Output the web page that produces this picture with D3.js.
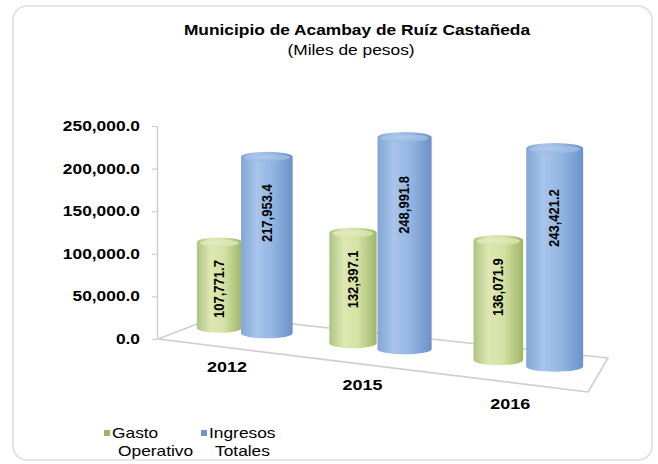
<!DOCTYPE html>
<html>
<head>
<meta charset="utf-8">
<script src="https://cdn.jsdelivr.net/npm/d3@7"></script>
<style>
  body { margin: 0; background: #ffffff; }
  svg { display: block; font-family: "Liberation Sans", Arial, sans-serif; }
</style>
</head>
<body>
<svg id="chart" width="658" height="464"></svg>
<script>
// ---- data ----
const categories = ['2012', '2015', '2016'];
const seriesNames = ['Gasto Operativo', 'Ingresos Totales'];
const gastoOperativo = [107771.7, 132397.1, 136071.9];
const ingresosTotales = [217953.4, 248991.8, 243421.2];
const valueTicks = [0, 50000, 100000, 150000, 200000, 250000];
const titleText = 'Municipio de Acambay de Ruíz Castañeda';
const subtitleText = '(Miles de pesos)';
const legendLines = [['Gasto', 'Operativo'], ['Ingresos', 'Totales']];

const seriesValues = [gastoOperativo, ingresosTotales];

// ---- look ----
const TEXT_STRETCH = 1.24;          // wide lettering used throughout the chart
const LABEL_STRETCH = 1.08;         // value labels written up the cylinders
const palette = {
  'Gasto Operativo': { stops: ['#aec383', '#dde8b3', '#d5e2a4', '#9fb66a'], cap: '#e5edc3', key: '#9bb75e' },
  'Ingresos Totales': { stops: ['#82a6d6', '#a8c5eb', '#94b6e2', '#6c92c6'], cap: '#b0cbec', key: '#6f97cf' }
};
const barWidth = { 'Gasto Operativo': 48, 'Ingresos Totales': 54 };

const svg = d3.select('#chart');
const defs = svg.append('defs');

// chart frame
svg.append('rect')
  .attr('x', 13).attr('y', 6).attr('width', 639).attr('height', 454)
  .attr('rx', 14).attr('ry', 14)
  .attr('fill', '#ffffff').attr('stroke', '#dedede').attr('stroke-width', 1.6);

// helper: stretched text placed at (x, y)
function wideText(g, x, y, txt, opts = {}) {
  return g.append('text')
    .attr('transform', `translate(${x},${y}) scale(${TEXT_STRETCH},1)`)
    .attr('text-anchor', opts.anchor || 'start')
    .attr('font-size', opts.size || 14)
    .attr('font-weight', opts.weight || 'normal')
    .attr('fill', '#000')
    .text(txt);
}

// ---- titles ----
wideText(svg, 357, 35, titleText, { anchor: 'middle', weight: 'bold', size: 14 });
wideText(svg, 351, 55, subtitleText, { anchor: 'middle', size: 14 });

// ---- 3D floor (perspective quad) ----
const FL = [158, 339], FR = [588, 392], BR = [608, 358], BL = [218, 316];
const lerp = (a, b, t) => a + (b - a) * t;
function floorPoint(u, z) {
  const fx = lerp(FL[0], FR[0], u), fy = lerp(FL[1], FR[1], u);
  const bx = lerp(BL[0], BR[0], u), by = lerp(BL[1], BR[1], u);
  return [lerp(fx, bx, z), lerp(fy, by, z)];
}
// perspective foreshortening along the category axis
const PERSP = 0.13;
const warp = t => t / (1 + PERSP * (1 - t));
const sizeAt = u => 1 + 0.14 * (u - 0.5);

svg.append('path')
  .attr('d', d3.line()([FL, FR, BR, BL, FL]))
  .attr('fill', '#ffffff')
  .attr('stroke', '#cfcfcf').attr('stroke-width', 1.6).attr('stroke-linejoin', 'round');

// ---- value axis ----
const y = d3.scaleLinear().domain([0, 250000]).range([339, 126]);
const yAxis = d3.axisLeft(y)
  .tickValues(valueTicks)
  .tickSize(5).tickSizeOuter(0)
  .tickFormat(d3.format(',.1f'));
const axisG = svg.append('g').attr('transform', 'translate(157,0)').call(yAxis);
axisG.select('.domain').attr('stroke', '#cfcfcf').attr('stroke-width', 1.4);
axisG.selectAll('.tick line').attr('stroke', '#cfcfcf').attr('stroke-width', 1.2);
axisG.selectAll('.tick text')
  .attr('x', null)
  .attr('transform', `translate(-17,0) scale(${TEXT_STRETCH},1)`)
  .attr('font-family', '"Liberation Sans", Arial, sans-serif')
  .attr('font-size', 14).attr('font-weight', 'bold').attr('fill', '#000');

// ---- category / series layout ----
const x0 = d3.scaleBand().domain(categories).range([-0.015, 0.985]).paddingInner(0.27).paddingOuter(0.06);
const x1 = d3.scaleBand().domain(seriesNames).range([0, x0.bandwidth()]);
const h = d3.scaleLinear().domain([0, 250000]).range([0, 212.5]);

// gradients for cylinder bodies and their tops
seriesNames.forEach((s, i) => {
  const gr = defs.append('linearGradient').attr('id', 'cyl' + i)
    .attr('x1', 0).attr('x2', 1).attr('y1', 0).attr('y2', 0);
  const st = palette[s].stops;
  [[0, st[0]], [0.3, st[1]], [0.6, st[2]], [1, st[3]]].forEach(([o, c]) =>
    gr.append('stop').attr('offset', o).attr('stop-color', c));
  const rg = defs.append('radialGradient').attr('id', 'cap' + i)
    .attr('cx', 0.4).attr('cy', 0.4).attr('r', 0.7);
  rg.append('stop').attr('offset', 0).attr('stop-color', palette[s].cap);
  rg.append('stop').attr('offset', 1).attr('stop-color', st[2]);
});

const bars = [];
categories.forEach((c, ci) => {
  seriesNames.forEach((s, si) => {
    const t = x0(c) + x1(s) + x1.bandwidth() / 2;
    const u = warp(t);
    const k = sizeAt(u);
    const [cx, by] = floorPoint(u, 0.6);
    const v = seriesValues[si][ci];
    bars.push({ c, s, si, v, cx, by, k, rx: barWidth[s] * k / 2, ry: 5 * k, hgt: h(v) * k });
  });
});

const barG = svg.append('g');
bars.forEach(b => {
  const top = b.by - b.hgt;
  const g = barG.append('g');
  g.append('path')
    .attr('d', `M${b.cx - b.rx},${b.by} L${b.cx - b.rx},${top}
      A${b.rx},${b.ry} 0 0 1 ${b.cx + b.rx},${top}
      L${b.cx + b.rx},${b.by}
      A${b.rx},${b.ry} 0 0 1 ${b.cx - b.rx},${b.by} Z`)
    .attr('fill', `url(#cyl${b.si})`);
  g.append('ellipse')
    .attr('cx', b.cx).attr('cy', top + 1)
    .attr('rx', b.rx - 3).attr('ry', b.ry - 1.2)
    .attr('fill', `url(#cap${b.si})`).attr('opacity', 0.9);

  // value label written up the cylinder
  const lbl = d3.format(',.1f')(b.v);
  const lt = g.append('text')
    .attr('text-anchor', 'middle').attr('dominant-baseline', 'central')
    .attr('font-size', 13).attr('font-weight', 'bold').attr('fill', '#000')
    .text(lbl);
  const half = lt.node().getComputedTextLength() / 2;
  const cy = Math.max(top + 0.32 * b.hgt, top + 18 + half);
  lt.attr('transform', `translate(${b.cx},${cy}) scale(${LABEL_STRETCH},1) rotate(-90)`);
});

// ---- category labels along the front edge ----
categories.forEach(c => {
  const uc = warp(x0(c) + x0.bandwidth() / 2);
  const [pcx] = floorPoint(uc, 0.6);
  const [, fy] = floorPoint(uc, 0);
  wideText(svg, pcx - 16, fy + 27, c, { anchor: 'middle', weight: 'bold', size: 14.5 });
});

// ---- legend ----
const legendX = [104, 201];
seriesNames.forEach((s, i) => {
  svg.append('rect')
    .attr('x', legendX[i]).attr('y', 430).attr('width', 6).attr('height', 6)
    .attr('fill', palette[s].key);
  wideText(svg, legendX[i] + 8, 438, legendLines[i][0], { size: 14 });
  wideText(svg, legendX[i] + 14, 456, legendLines[i][1], { size: 14 });
});
</script>
</body>
</html>
